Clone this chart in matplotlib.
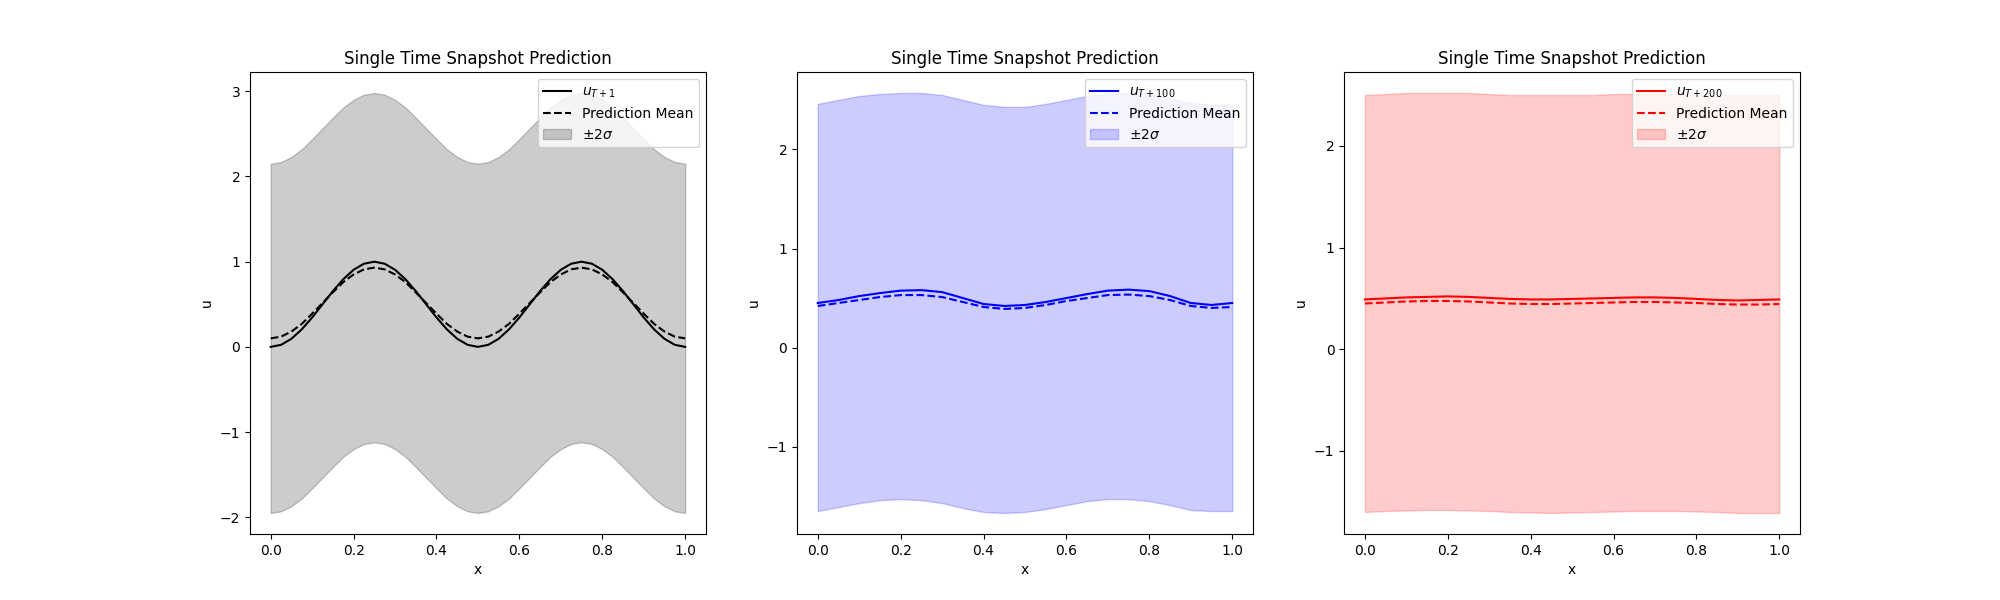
import matplotlib
matplotlib.use("Agg")
import matplotlib.pyplot as plt

x1 = [i * 0.025 for i in range(41)]
x = [0.0, 0.05, 0.1, 0.15, 0.2, 0.25, 0.3, 0.35, 0.4, 0.45, 0.5,
     0.55, 0.6, 0.65, 0.7, 0.75, 0.8, 0.85, 0.9, 0.95, 1.0]

q_true = [0.0, 0.024, 0.095, 0.206, 0.345, 0.5, 0.655, 0.794, 0.905, 0.976, 1.0]
q_mean = [0.10, 0.12, 0.18, 0.27, 0.39, 0.515, 0.64, 0.76, 0.85, 0.91, 0.93]
q_up = [2.15, 2.17, 2.23, 2.32, 2.44, 2.565, 2.69, 2.81, 2.90, 2.96, 2.98]
q_lo = [-1.95, -1.93, -1.87, -1.78, -1.66, -1.535, -1.41, -1.29, -1.20, -1.14, -1.12]

def period(q):
    half = q + q[-2::-1]
    return half + half[1:] + half[1:]

true1 = period(q_true)[:41]
mean1 = period(q_mean)[:41]
up1 = period(q_up)[:41]
lo1 = period(q_lo)[:41]

true2 = [0.45, 0.48, 0.52, 0.55, 0.575, 0.58, 0.56, 0.50, 0.44, 0.42, 0.43,
         0.46, 0.50, 0.54, 0.575, 0.585, 0.57, 0.52, 0.45, 0.43, 0.45]
mean2 = [0.42, 0.45, 0.48, 0.51, 0.53, 0.53, 0.51, 0.46, 0.41, 0.39, 0.40,
         0.43, 0.47, 0.50, 0.53, 0.535, 0.52, 0.48, 0.42, 0.40, 0.41]
up2 = [2.46, 2.50, 2.54, 2.56, 2.57, 2.57, 2.55, 2.50, 2.45, 2.43, 2.43,
       2.46, 2.50, 2.54, 2.56, 2.57, 2.56, 2.52, 2.47, 2.45, 2.45]
lo2 = [-1.65, -1.61, -1.57, -1.54, -1.53, -1.54, -1.57, -1.62, -1.66, -1.67, -1.66,
       -1.63, -1.59, -1.55, -1.53, -1.53, -1.55, -1.59, -1.64, -1.65, -1.65]

true3 = [0.49, 0.50, 0.51, 0.515, 0.52, 0.515, 0.505, 0.495, 0.49, 0.49, 0.495,
         0.50, 0.505, 0.51, 0.51, 0.505, 0.495, 0.485, 0.48, 0.485, 0.49]
mean3 = [0.45, 0.46, 0.47, 0.475, 0.475, 0.47, 0.46, 0.45, 0.445, 0.445, 0.45,
         0.455, 0.46, 0.465, 0.465, 0.46, 0.455, 0.445, 0.44, 0.44, 0.445]
up3 = [2.50, 2.51, 2.52, 2.52, 2.52, 2.52, 2.51, 2.50, 2.50, 2.50, 2.50,
       2.50, 2.51, 2.51, 2.51, 2.51, 2.50, 2.50, 2.50, 2.50, 2.50]
lo3 = [-1.60, -1.59, -1.585, -1.58, -1.58, -1.585, -1.59, -1.60, -1.605, -1.61, -1.605,
       -1.60, -1.595, -1.59, -1.59, -1.59, -1.595, -1.60, -1.61, -1.61, -1.61]

panels = [
    (x1, true1, mean1, up1, lo1, "black", r"$u_{T+1}$"),
    (x, true2, mean2, up2, lo2, "blue", r"$u_{T+100}$"),
    (x, true3, mean3, up3, lo3, "red", r"$u_{T+200}$"),
]

fig, axes = plt.subplots(1, 3, figsize=(20, 6), dpi=100)
for ax, (xx, t, m, u, l, c, lab) in zip(axes, panels):
    ax.plot(xx, t, color=c, label=lab)
    ax.plot(xx, m, color=c, linestyle="--", label="Prediction Mean")
    ax.fill_between(xx, l, u, color=c, alpha=0.2, label=r"$\pm2\sigma$")
    ax.set_title("Single Time Snapshot Prediction")
    ax.set_xlabel("x")
    ax.set_ylabel("u")
    ax.legend(loc="upper right")

fig.savefig("out.png", dpi=100)
